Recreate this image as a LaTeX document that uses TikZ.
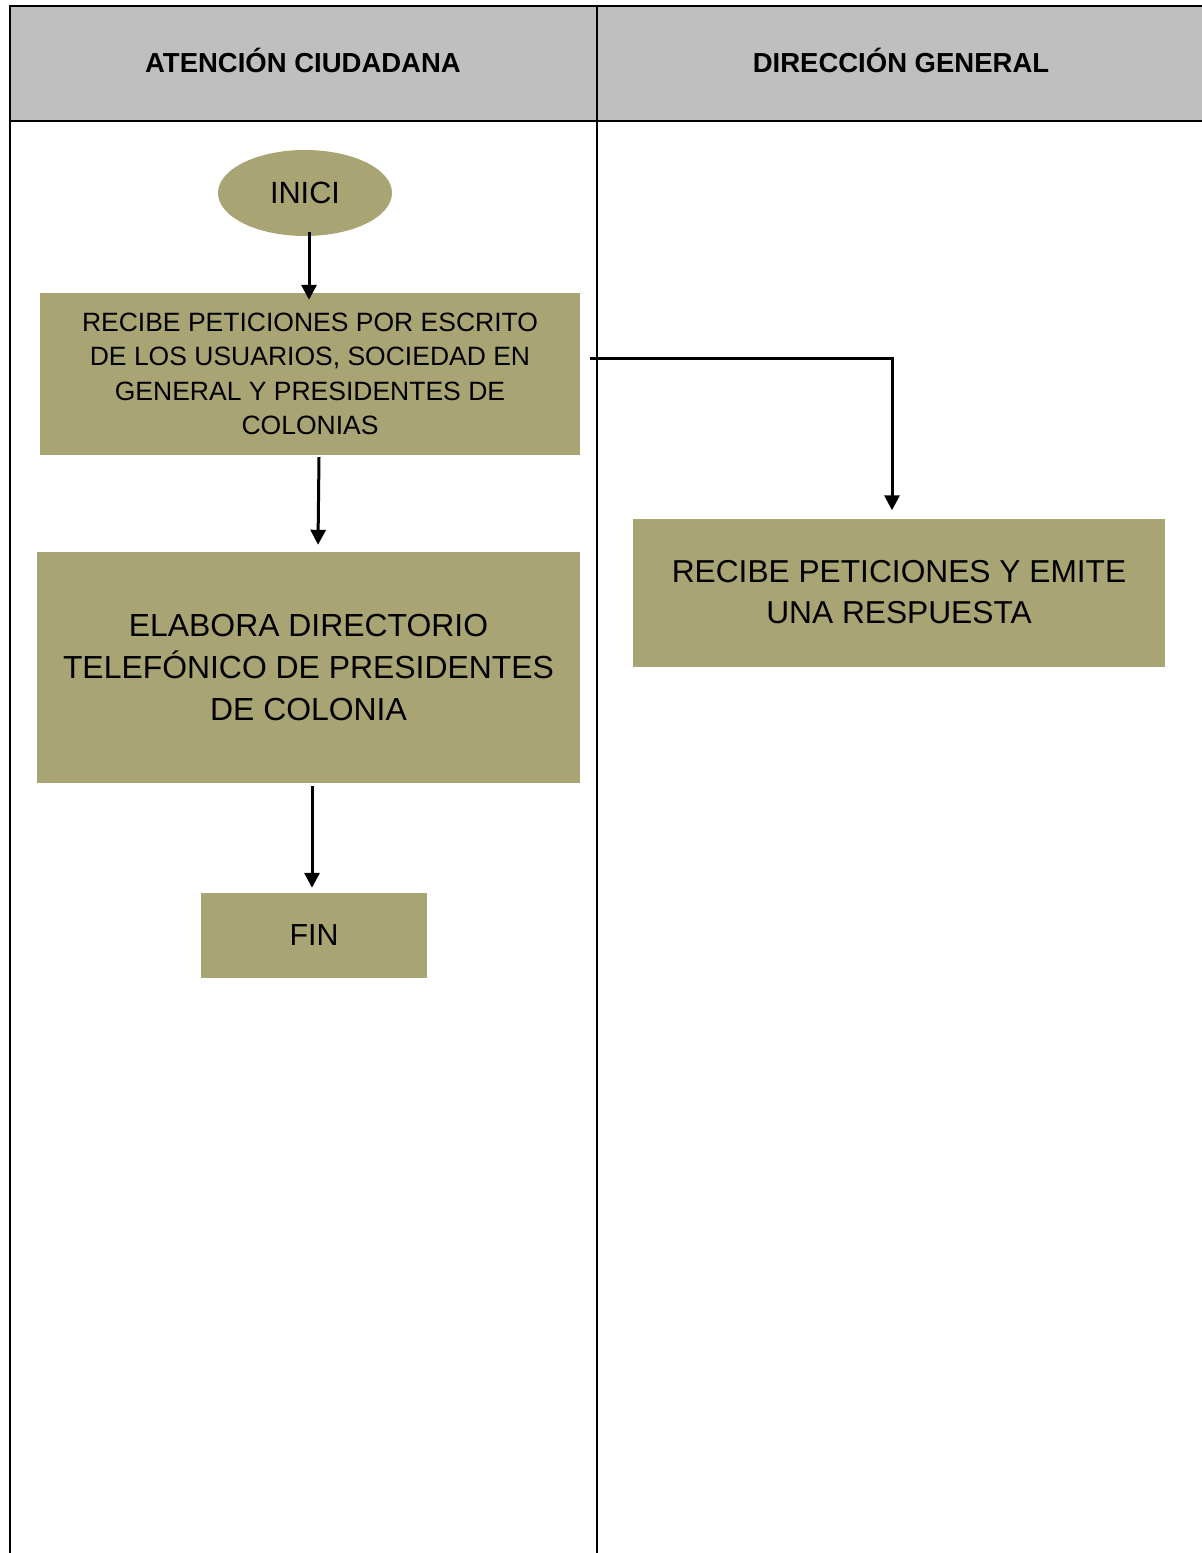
\documentclass[tikz,border=0pt]{standalone}
\usepackage{fontspec}
\setmainfont{Liberation Sans}
\usetikzlibrary{arrows.meta,positioning,shapes.geometric}
\definecolor{caqui}{RGB}{168,164,116}
\definecolor{gris}{RGB}{191,191,191}
\begin{document}
\begin{tikzpicture}[x=1pt,y=-1pt,>={Triangle[width=15pt,length=15pt]},
  caja/.style={fill=caqui,inner sep=0pt,align=center},
  flecha/.style={->,line width=3pt},
  carril/.style={line width=2.8pt}]
\useasboundingbox (0,0) rectangle (1202,1553);
% encabezado y carriles
\fill[gris] (10,6) rectangle (1202,121);
\draw[carril] (1202,6) -- (10,6) -- (10,1553);
\draw[carril] (10,121) -- (1202,121);
\draw[carril] (597,6) -- (597,1553);
\node[font=\bfseries\fontsize{27.5}{33}\selectfont] (hAC) at (303,60) {ATENCIÓN CIUDADANA};
\node[font=\bfseries\fontsize{27.5}{33}\selectfont] (hDG) at (901,60) {DIRECCIÓN GENERAL};
% pasos
\node[caja,ellipse,minimum width=174pt,minimum height=86pt,
  font=\fontsize{30.7}{36}\selectfont] (inici) at (305,193) {INICI};
\node[caja,minimum width=540pt,minimum height=162pt,
  font=\fontsize{26.5}{34.5}\selectfont] (recibe) at (310,374)
  {RECIBE PETICIONES POR ESCRITO\\DE LOS USUARIOS, SOCIEDAD EN\\GENERAL Y PRESIDENTES DE\\COLONIAS};
\node[caja,minimum width=543pt,minimum height=231pt,
  font=\fontsize{31.9}{42}\selectfont] (elabora) at (308.5,667.5)
  {ELABORA DIRECTORIO\\TELEFÓNICO DE PRESIDENTES\\DE COLONIA};
\node[caja,minimum width=226pt,minimum height=85pt,
  font=\fontsize{30.4}{36}\selectfont] (fin) at (314,935.5) {FIN};
\node[caja,minimum width=532pt,minimum height=148pt,
  font=\fontsize{31.7}{41}\selectfont] (responde) at (899,592.5)
  {RECIBE PETICIONES Y EMITE\\UNA RESPUESTA};
% conectores
\draw[flecha] ([xshift=4pt,yshift=4pt]inici.south) -- ([xshift=-1pt,yshift=-7pt]recibe.north);
\draw[flecha] ([xshift=9pt,yshift=-2pt]recibe.south) -- ([xshift=9.5pt,yshift=7pt]elabora.north);
\draw[flecha] ([xshift=3.5pt,yshift=-3pt]elabora.south) -- ([xshift=-2pt,yshift=5pt]fin.north);
\draw[flecha] ([shift={(10pt,16pt)}]recibe.east) -| ([xshift=-7pt,yshift=8pt]responde.north);
\end{tikzpicture}
\end{document}
